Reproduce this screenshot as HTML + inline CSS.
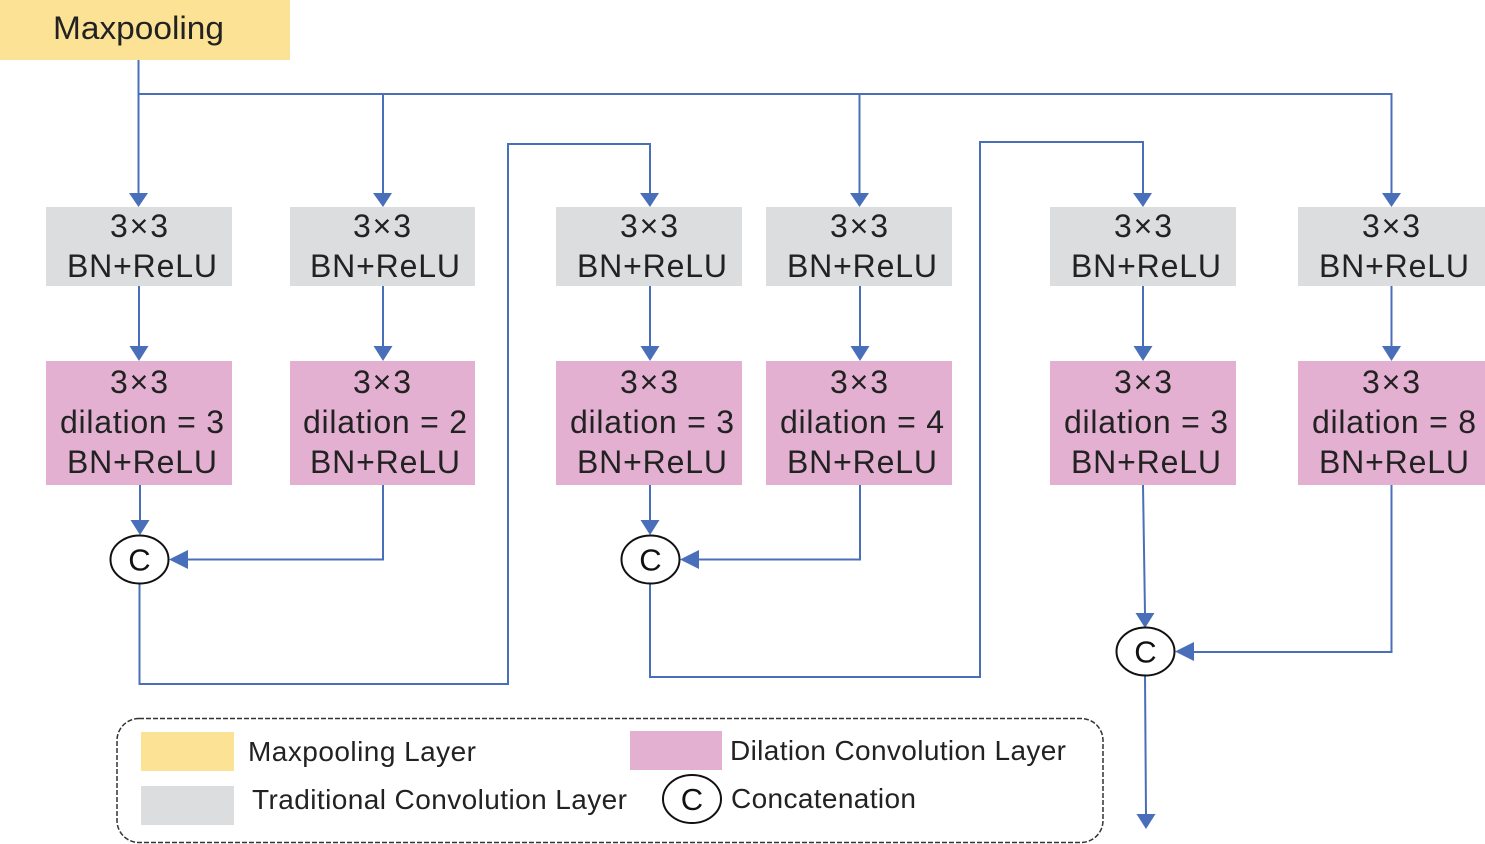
<!DOCTYPE html>
<html><head><meta charset="utf-8"><style>
html,body{margin:0;padding:0;background:#fff;}
svg{display:block;font-family:"Liberation Sans",sans-serif;}
</style></head><body>
<svg width="1485" height="844" viewBox="0 0 1485 844" xmlns="http://www.w3.org/2000/svg">
<rect x="0" y="0" width="290" height="60" fill="#fce294"/>
<text x="53" y="39" font-size="32" textLength="171" lengthAdjust="spacingAndGlyphs" fill="#222">Maxpooling</text>

<g fill="none" stroke="#4a6fba" stroke-width="2">
<path d="M138.5 60V194"/>
<path d="M138 94H1391.5V194"/>
<path d="M383 94V194"/>
<path d="M859.5 94V194"/>
<path d="M139 286V348M383 286V348M650 286V348M860 286V348M1143 286V348M1391.5 286V348"/>
<path d="M140 485V521"/>
<path d="M383 485V559.5H186"/>
<path d="M139.5 583V684H508V144H650V194"/>
<path d="M650 485V521"/>
<path d="M860 485V559.5H697"/>
<path d="M650 583V677H980V142H1143V194"/>
<path d="M1143 485L1145 614"/>
<path d="M1391.5 485V652H1192"/>
<path d="M1145 675L1146 815"/>
</g>
<g fill="#4a6fba">
<path d="M129 193L148 193L138.5 207Z"/>
<path d="M373 193L392 193L383 207Z"/>
<path d="M640 193L659 193L650 207Z"/>
<path d="M850 193L869 193L859.5 207Z"/>
<path d="M1133 193L1152 193L1143 207Z"/>
<path d="M1382 193L1401 193L1391.5 207Z"/>
<path d="M129.5 346L148.5 346L139 361Z"/>
<path d="M373.5 346L392.5 346L383 361Z"/>
<path d="M640.5 346L659.5 346L650 361Z"/>
<path d="M850.5 346L869.5 346L860 361Z"/>
<path d="M1133.5 346L1152.5 346L1143 361Z"/>
<path d="M1382 346L1401 346L1391.5 361Z"/>
<path d="M130.5 520L149.5 520L140 535Z"/>
<path d="M640.5 520L659.5 520L650 535Z"/>
<path d="M1135.5 613L1154.5 613L1145 628Z"/>
<path d="M1136.5 814L1155.5 814L1146 829Z"/>
<path d="M188 550L188 569L169 559.5Z"/>
<path d="M699 550L699 569L680 559.5Z"/>
<path d="M1194 642L1194 661L1175 651.5Z"/>
</g>

<g fill="#dcdddf">
<rect x="46" y="207" width="186" height="79"/>
<rect x="290" y="207" width="185" height="79"/>
<rect x="556" y="207" width="186" height="79"/>
<rect x="766" y="207" width="186" height="79"/>
<rect x="1050" y="207" width="186" height="79"/>
<rect x="1298" y="207" width="187" height="79"/>
</g>
<g fill="#e4b0d2">
<rect x="46" y="361" width="186" height="124"/>
<rect x="290" y="361" width="185" height="124"/>
<rect x="556" y="361" width="186" height="124"/>
<rect x="766" y="361" width="186" height="124"/>
<rect x="1050" y="361" width="186" height="124"/>
<rect x="1298" y="361" width="187" height="124"/>
</g>
<g font-size="32" fill="#222" text-anchor="middle" lengthAdjust="spacingAndGlyphs">
<text x="139" y="237" textLength="58">3×3</text><text x="142" y="277" textLength="150">BN+ReLU</text>
<text x="382" y="237" textLength="58">3×3</text><text x="385" y="277" textLength="150">BN+ReLU</text>
<text x="649" y="237" textLength="58">3×3</text><text x="652" y="277" textLength="150">BN+ReLU</text>
<text x="859" y="237" textLength="58">3×3</text><text x="862" y="277" textLength="150">BN+ReLU</text>
<text x="1143" y="237" textLength="58">3×3</text><text x="1146" y="277" textLength="150">BN+ReLU</text>
<text x="1391" y="237" textLength="58">3×3</text><text x="1394" y="277" textLength="150">BN+ReLU</text>

<text x="139" y="393" textLength="58">3×3</text><text x="142" y="433" textLength="164">dilation = 3</text><text x="142" y="473" textLength="150">BN+ReLU</text>
<text x="382" y="393" textLength="58">3×3</text><text x="385" y="433" textLength="164">dilation = 2</text><text x="385" y="473" textLength="150">BN+ReLU</text>
<text x="649" y="393" textLength="58">3×3</text><text x="652" y="433" textLength="164">dilation = 3</text><text x="652" y="473" textLength="150">BN+ReLU</text>
<text x="859" y="393" textLength="58">3×3</text><text x="862" y="433" textLength="164">dilation = 4</text><text x="862" y="473" textLength="150">BN+ReLU</text>
<text x="1143" y="393" textLength="58">3×3</text><text x="1146" y="433" textLength="164">dilation = 3</text><text x="1146" y="473" textLength="150">BN+ReLU</text>
<text x="1391" y="393" textLength="58">3×3</text><text x="1394" y="433" textLength="164">dilation = 8</text><text x="1394" y="473" textLength="150">BN+ReLU</text>
</g>

<g fill="#fff" stroke="#111" stroke-width="2">
<ellipse cx="139.5" cy="559.5" rx="29" ry="24"/>
<ellipse cx="650.5" cy="559.5" rx="29" ry="24"/>
<ellipse cx="1145.5" cy="651.5" rx="29" ry="24"/>
<ellipse cx="692" cy="799" rx="29" ry="24"/>
</g>
<g font-size="31" fill="#111" text-anchor="middle">
<text x="139.5" y="570.5">C</text>
<text x="650.5" y="570.5">C</text>
<text x="1145.5" y="662.5">C</text>
<text x="692" y="810">C</text>
</g>

<rect x="117" y="718.5" width="986" height="124" rx="22" ry="22" fill="none" stroke="#333" stroke-width="1.5" stroke-dasharray="5,2"/>
<rect x="141" y="732" width="93" height="39" fill="#fce294"/>
<rect x="141" y="786" width="93" height="39" fill="#dcdddf"/>
<rect x="630" y="731" width="92" height="39" fill="#e4b0d2"/>
<g font-size="28" fill="#222" lengthAdjust="spacingAndGlyphs">
<text x="248" y="761" textLength="228">Maxpooling Layer</text>
<text x="252" y="809" textLength="375">Traditional Convolution Layer</text>
<text x="730" y="760" textLength="336">Dilation Convolution Layer</text>
<text x="731" y="808" textLength="185">Concatenation</text>
</g>
</svg>
</body></html>
